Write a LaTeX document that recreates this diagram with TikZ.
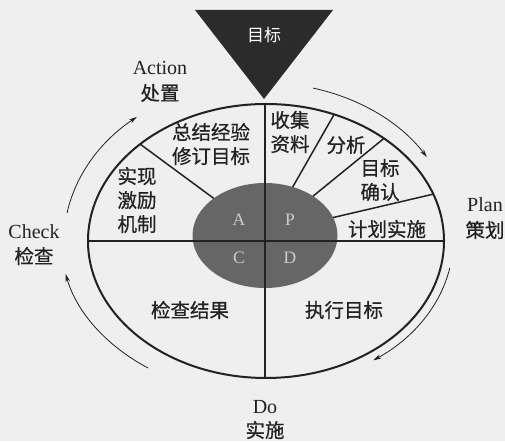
\documentclass[tikz,border=0pt]{standalone}
\usepackage{fontspec}
\setmainfont{Liberation Serif}
\newfontfamily\cjk[FakeBold=0.6]{Noto Sans CJK SC}
\newfontfamily\cjklight{Noto Sans CJK SC}
\usetikzlibrary{arrows.meta,calc}
\definecolor{bg}{HTML}{EFEFEF}
\definecolor{tri}{HTML}{2B2B2B}
\definecolor{hub}{HTML}{666666}
\definecolor{ink}{HTML}{222222}
\begin{document}
\begin{tikzpicture}[x=1pt,y=1pt,
  cjktxt/.style={font=\cjk\fontsize{19.5}{24}\selectfont, text=ink, align=center, inner sep=0pt},
  lattxt/.style={font=\fontsize{20}{25}\selectfont, text=ink, align=center, inner sep=0pt},
  hubtxt/.style={font=\fontsize{17.5}{20}\selectfont, text=black!20, inner sep=0pt},
  divider/.style={draw=ink, line width=1.5pt},
  cyc/.style={draw=ink, line width=0.8pt, -{Stealth[length=8pt,width=4.5pt]}}]
\fill[bg] (0,0) rectangle (505,441);
\useasboundingbox (0,0) rectangle (505,441);
\coordinate (oc) at (266,200);
\coordinate (ic) at (265,205.5);
\coordinate (ac) at (265,200);
% hub
\fill[hub] (ic) ellipse [x radius=72.5pt, y radius=52.5pt];
% radial dividers
\foreach \n/\a in {l1/135, l2/67.5, l3/48.5, l4/20} {
  \coordinate (\n-o) at ($(oc)+(\a:178pt and 137pt)$);
  \coordinate (\n-i) at ($(ic)+(\a:72.5pt and 52.5pt)$);
}
\foreach \n in {l1,l2,l3,l4} { \draw[divider] (\n-i) -- (\n-o); }
\coordinate (vt) at (265,337);
\coordinate (vb) at (265,63);
\coordinate (hl) at (88,200);
\coordinate (hr) at (444,200);
\draw[divider] (vt) -- (vb);
\draw[divider] (hl) -- (hr);
\draw[ink, line width=2pt] (oc) ellipse [x radius=178pt, y radius=137pt];
% goal triangle
\coordinate (t1) at (195,431);
\coordinate (t2) at (333,431);
\coordinate (t3) at (264,342);
\fill[tri] (t1) -- (t2) -- (t3) -- cycle;
\node[cjktxt, text=white, font=\cjklight\fontsize{17}{20}\selectfont] (goal) at (264,406) {目标};
% hub letters
\node[hubtxt] (hA) at (239,221) {A};
\node[hubtxt] (hP) at (290,221) {P};
\node[hubtxt] (hC) at (239,183) {C};
\node[hubtxt] (hD) at (290,183) {D};
% sector texts
\node[cjktxt] (s1) at (211,297) {总结经验\\修订目标};
\node[cjktxt] (s2) at (290,309) {收集\\资料};
\node[cjktxt] (s3) at (346,296) {分析};
\node[cjktxt] (s4) at (380,261) {目标\\确认};
\node[cjktxt] (s5) at (137,241) {实现\\激励\\机制};
\node[cjktxt] (s6) at (387,212) {计划实施};
\node[cjktxt] (s7) at (190,131) {检查结果};
\node[cjktxt] (s8) at (344,131) {执行目标};
% phase labels
\node[lattxt] (act) at (160,373) {Action};
\node[cjktxt] (actc) at (160,348) {处置};
\node[lattxt] (plan) at (485,236) {Plan};
\node[cjktxt] (planc) at (485,211) {策划};
\node[lattxt] (chk) at (34,209) {Check};
\node[cjktxt] (chkc) at (34,185) {检查};
\node[lattxt] (do) at (265,34) {Do};
\node[cjktxt] (doc) at (265,11) {实施};
% cycle arrows
\coordinate (a1) at ($(ac)+(75.4:191pt and 158pt)$);
\coordinate (a2) at ($(ac)+(-10.6:188pt and 146pt)$);
\coordinate (a3) at ($(ac)+(235:204pt and 155pt)$);
\coordinate (a4) at ($(ac)+(170:201pt and 161pt)$);
\draw[cyc] (a1) arc[start angle=75.4, end angle=32.1, x radius=191pt, y radius=158pt];
\draw[cyc] (a2) arc[start angle=-10.6, end angle=-54.8, x radius=188pt, y radius=146pt];
\draw[cyc] (a3) arc[start angle=235, end angle=192.3, x radius=204pt, y radius=155pt];
\draw[cyc] (a4) arc[start angle=170, end angle=129.6, x radius=201pt, y radius=161pt];
\end{tikzpicture}
\end{document}
